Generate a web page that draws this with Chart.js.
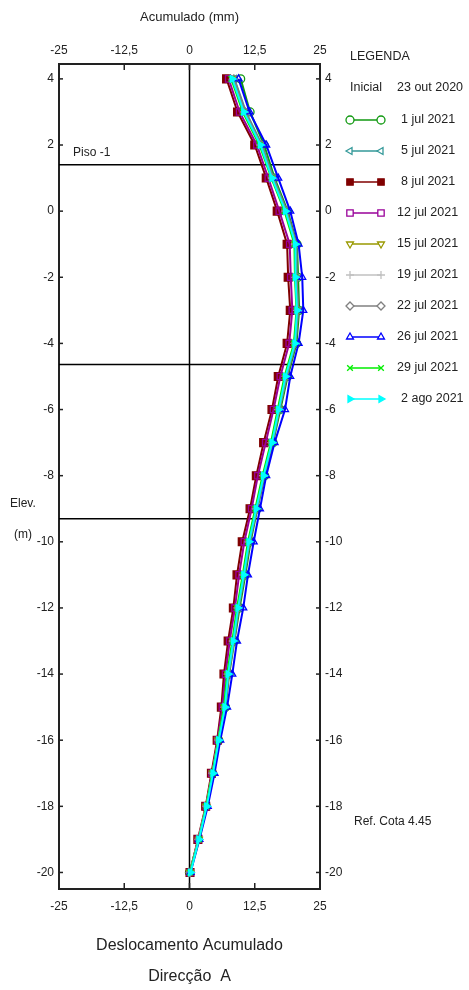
<!DOCTYPE html>
<html>
<head>
<meta charset="utf-8">
<script src="https://cdn.jsdelivr.net/npm/chart.js@4.4.0/dist/chart.umd.min.js"></script>
<style>
  html, body { margin: 0; padding: 0; background: #fff; }
  canvas { display: block; }
</style>
</head>
<body>
<canvas id="graph" width="469" height="990"></canvas>
<script>
// elevations (m) of the readings
const elev = [4, 3, 2, 1, 0, -1, -2, -3, -4, -5, -6, -7, -8, -9, -10, -11, -12, -13, -14, -15, -16, -17, -18, -19, -20];

// cumulative displacement (mm) per reading date
const jul01 = [9.8, 11.6, 14.3, 16.3, 18.8, 20.6, 20.8, 21.0, 20.5, 18.8, 17.4, 16.0, 14.4, 13.0, 11.7, 10.7, 9.6, 8.6, 7.6, 6.9, 5.6, 4.4, 3.2, 1.7, 0.0];
const jul05 = [8.6, 10.8, 13.9, 16.1, 18.6, 20.4, 20.5, 20.8, 20.3, 18.6, 17.2, 15.9, 14.3, 12.9, 11.5, 10.5, 9.4, 8.5, 7.5, 6.8, 5.6, 4.5, 3.3, 1.8, 0.1];
const jul08 = [7.1, 9.2, 12.5, 14.7, 16.8, 18.7, 18.9, 19.3, 18.7, 17.0, 15.8, 14.2, 12.8, 11.6, 10.1, 9.1, 8.4, 7.4, 6.6, 6.1, 5.3, 4.2, 3.1, 1.6, 0.1];
const jul12 = [7.5, 9.6, 12.9, 15.1, 17.2, 19.2, 19.4, 19.7, 19.1, 17.4, 16.1, 14.6, 13.1, 11.9, 10.5, 9.5, 8.7, 7.7, 6.9, 6.3, 5.4, 4.3, 3.2, 1.7, 0.1];
const jul15 = [8.4, 10.6, 13.7, 15.9, 18.5, 20.3, 20.4, 20.7, 20.2, 18.5, 17.1, 15.8, 14.2, 12.8, 11.4, 10.4, 9.3, 8.4, 7.4, 6.7, 5.5, 4.4, 3.2, 1.8, 0.1];
const jul19 = [8.3, 10.5, 13.6, 15.8, 18.4, 20.2, 20.3, 20.6, 20.1, 18.4, 17.0, 15.7, 14.1, 12.7, 11.3, 10.3, 9.2, 8.3, 7.3, 6.7, 5.5, 4.4, 3.2, 1.7, 0.1];
const jul22 = [8.5, 10.7, 13.8, 16.0, 18.6, 20.5, 20.5, 20.8, 20.3, 18.6, 17.2, 15.9, 14.3, 12.9, 11.5, 10.5, 9.4, 8.5, 7.5, 6.8, 5.6, 4.5, 3.3, 1.8, 0.1];
const jul26 = [9.4, 11.5, 14.7, 17.0, 19.3, 20.9, 21.6, 21.8, 20.9, 19.3, 18.3, 16.3, 14.7, 13.5, 12.3, 11.2, 10.3, 9.1, 8.2, 7.2, 5.9, 4.8, 3.5, 1.9, 0.2];
const jul29 = [8.0, 10.2, 13.4, 15.7, 18.2, 20.1, 20.2, 20.5, 20.0, 18.2, 16.9, 15.6, 14.0, 12.6, 11.2, 10.2, 9.1, 8.2, 7.2, 6.6, 5.5, 4.4, 3.2, 1.8, 0.1];
const ago02 = [8.2, 10.4, 13.6, 15.8, 18.4, 20.3, 20.3, 20.6, 20.2, 18.4, 17.1, 15.8, 14.2, 12.8, 11.4, 10.4, 9.3, 8.4, 7.4, 6.8, 5.6, 4.5, 3.3, 1.8, 0.2];

const seriesNames = ["1 jul 2021", "5 jul 2021", "8 jul 2021", "12 jul 2021", "15 jul 2021",
                     "19 jul 2021", "22 jul 2021", "26 jul 2021", "29 jul 2021", "2 ago 2021"];
const seriesValues = [jul01, jul05, jul08, jul12, jul15, jul19, jul22, jul26, jul29, ago02];

// axis ticks
const xTicks = [-25, -12.5, 0, 12.5, 25];
const yTicks = [4, 2, 0, -2, -4, -6, -8, -10, -12, -14, -16, -18, -20];
const floorLevels = [1.4, -4.64, -9.3];   // horizontal reference lines
const refCota = 4.45;

// look of each series (open markers: fill only in the legend)
const styles = [
  { color: "#119911", point: "circle",   rot: 0,   r: 4,   open: true },
  { color: "#339999", point: "triangle", rot: -90, r: 4,   open: true },
  { color: "#800000", point: "rect",     rot: 0,   r: 5.5, open: false },
  { color: "#990099", point: "rect",     rot: 0,   r: 4.5, open: true },
  { color: "#999900", point: "triangle", rot: 180, r: 4,   open: true },
  { color: "#c0c0c0", point: "cross",    rot: 0,   r: 4,   open: true },
  { color: "#808080", point: "rectRot",  rot: 0,   r: 4,   open: true },
  { color: "#0000ff", point: "triangle", rot: 0,   r: 4,   open: true },
  { color: "#00ee00", point: "crossRot", rot: 0,   r: 4,   open: true },
  { color: "#00ffff", point: "triangle", rot: 90,  r: 4,   open: false }
];

const FONT = '"Liberation Sans", Arial, sans-serif';
const fmt = v => String(v).replace(".", ",");

const datasets = seriesValues.map((vals, i) => ({
  label: seriesNames[i],
  data: vals.map((v, k) => ({ x: v, y: elev[k] })),
  borderColor: styles[i].color,
  backgroundColor: styles[i].open ? "rgba(0,0,0,0)" : styles[i].color,
  borderWidth: 2,
  pointStyle: styles[i].point,
  pointRotation: styles[i].rot,
  pointRadius: styles[i].r,
  pointBorderWidth: 1.3,
  pointBackgroundColor: styles[i].open ? "rgba(0,0,0,0)" : styles[i].color,
  pointBorderColor: styles[i].color,
  order: seriesValues.length - i,
  tension: 0
}));

function line(ctx, x1, y1, x2, y2) {
  ctx.beginPath(); ctx.moveTo(x1, y1); ctx.lineTo(x2, y2); ctx.stroke();
}

const decor = {
  id: "decor",
  beforeDatasetsDraw(chart) {
    const { ctx, chartArea: a, scales } = chart;
    ctx.save();
    ctx.strokeStyle = "#000";
    ctx.lineWidth = 1.5;
    floorLevels.forEach(v => {
      const y = scales.y.getPixelForValue(v);
      line(ctx, a.left, y, a.right, y);
    });
    const x0 = scales.x.getPixelForValue(0);
    line(ctx, x0, a.top, x0, a.bottom);
    // inner tick marks
    ctx.strokeStyle = "#222";
    xTicks.forEach(v => {
      const x = scales.x.getPixelForValue(v);
      line(ctx, x, a.top, x, a.top + 6);
      line(ctx, x, a.bottom, x, a.bottom - 6);
    });
    yTicks.forEach(v => {
      const y = scales.y.getPixelForValue(v);
      line(ctx, a.left, y, a.left + 4, y);
      line(ctx, a.right, y, a.right - 4, y);
    });
    ctx.restore();
  },
  afterDraw(chart) {
    const { ctx, scales } = chart;
    const xc = scales.x.getPixelForValue(0);
    ctx.save();
    ctx.fillStyle = "#222";
    ctx.textBaseline = "middle";
    ctx.textAlign = "center";
    ctx.font = "13px " + FONT;
    ctx.fillText("Acumulado (mm)", xc, 17);
    ctx.font = "16px " + FONT;
    ctx.fillText("Deslocamento Acumulado", xc, 946);
    ctx.fillText("Direcção  A", xc, 977);

    ctx.textAlign = "left";
    ctx.font = "12px " + FONT;
    ctx.fillText("Piso -1", 73, 153);
    ctx.fillText("Elev.", 10, 504);
    ctx.fillText("(m)", 14, 535);
    ctx.fillText("Ref. Cota " + refCota.toFixed(2), 354, 822);

    // legend
    ctx.font = "12.5px " + FONT;
    ctx.fillText("LEGENDA", 350, 57);
    ctx.fillText("Inicial", 350, 88);
    ctx.fillText("23 out 2020", 397, 88);
    seriesNames.forEach((name, i) => {
      const st = styles[i];
      const y = 120 + i * 31;
      ctx.strokeStyle = st.color;
      ctx.lineWidth = 1.5;
      line(ctx, 350, y, 381, y);
      [350, 381].forEach(x => {
        ctx.fillStyle = st.open ? "#fff" : st.color;
        ctx.strokeStyle = st.color;
        ctx.lineWidth = 1.3;
        Chart.helpers.drawPoint(ctx, { pointStyle: st.point, radius: Math.min(st.r, 4.5), rotation: st.rot, borderWidth: 1.3 }, x, y);
      });
      ctx.fillStyle = "#222";
      const dx = /^\d\s/.test(name) ? 4 : 0;
      ctx.fillText(name, 397 + dx, y);
    });
    ctx.restore();
  }
};

const tickFont = { family: FONT, size: 12 };
const border = { display: true, color: "#222", width: 2 };

function xAxis(pos, pad) {
  return {
    type: "linear", position: pos, min: -25, max: 25,
    afterBuildTicks: s => { s.ticks = xTicks.map(v => ({ value: v })); },
    afterFit: s => { s.height = 30; },
    grid: { drawOnChartArea: false, drawTicks: false },
    border: border,
    ticks: { font: tickFont, color: "#222", padding: pad, maxRotation: 0, callback: v => fmt(v) }
  };
}
function yAxis(pos, w) {
  return {
    type: "linear", position: pos, min: -20.5, max: refCota,
    afterBuildTicks: s => { s.ticks = yTicks.map(v => ({ value: v })); },
    afterFit: s => { s.width = w; },
    grid: { drawOnChartArea: false, drawTicks: false },
    border: border,
    ticks: { font: tickFont, color: "#222", padding: 5, callback: v => String(v) }
  };
}

new Chart(document.getElementById("graph").getContext("2d"), {
  type: "line",
  data: { datasets: datasets },
  options: {
    responsive: false,
    animation: false,
    layout: { padding: { left: 0, right: 119, top: 34, bottom: 71 } },
    plugins: { legend: { display: false }, tooltip: { enabled: false } },
    scales: {
      x: xAxis("bottom", 10),
      x2: xAxis("top", 6),
      y: yAxis("left", 59),
      y2: yAxis("right", 30)
    }
  },
  plugins: [decor]
});
</script>
</body>
</html>
